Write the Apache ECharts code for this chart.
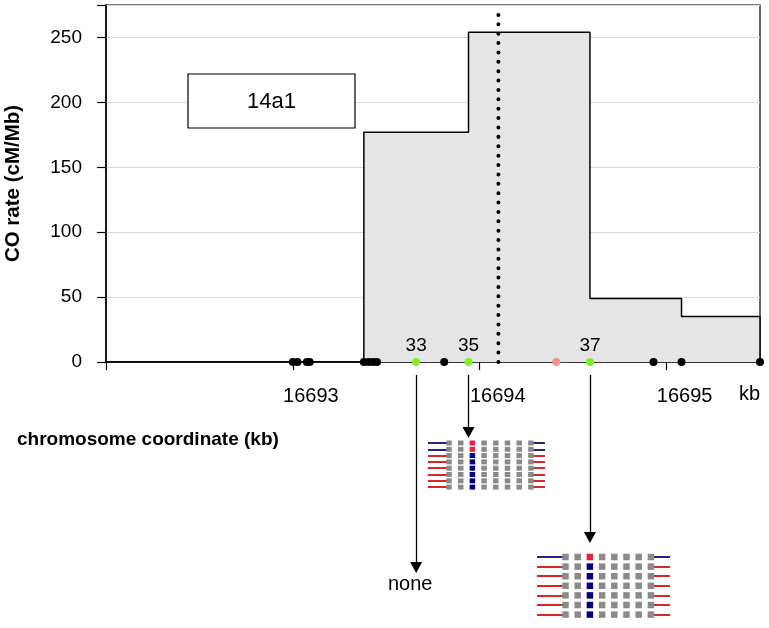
<!DOCTYPE html>
<html><head><meta charset="utf-8">
<script src="https://cdn.jsdelivr.net/npm/echarts@6/dist/echarts.min.js"></script>
<style>html,body{margin:0;padding:0;background:#fff}#c{width:769px;height:628px}</style>
</head><body><div id="c"></div>
<script>
// ---------------- DATA ----------------
const stepEdges = [16692, 16693.38, 16693.94, 16694.59, 16695.08, 16695.50]; // kb
const stepRates = [0, 177, 254, 49, 35];                                     // cM/Mb
const yTickValues = [0, 50, 100, 150, 200, 250];
const xTickMarks = [16692, 16693, 16694, 16695];
const xTickLabels = [16693, 16694, 16695];
const blackMarkers = [16693.00, 16693.025, 16693.075, 16693.09, 16693.38, 16693.405, 16693.43, 16693.45, 16693.81, 16694.93, 16695.08, 16695.50];
const greenMarkers = [16693.66, 16693.94, 16694.59];
const greenLabels = ['33', '35', '37'];
const pinkMarkers = [16694.41];
const hotspotCentre = 16694.10;
const hotspotTop = 268;
const sampleName = '14a1';
const xUnit = 'kb';
const xTitle = 'chromosome coordinate (kb)';
const yTitle = 'CO rate (cM/Mb)';
const arrowLabels = ['none', '', ''];
// haplotype blocks: 'R' = red marker (blue flanks), 'B' = blue marker (red flanks)
const block1Rows = ['R', 'R', 'B', 'B', 'B', 'B', 'B', 'B'];
const block2Rows = ['R', 'B', 'B', 'B', 'B', 'B', 'B'];
const blockCols = [8, 8];
const blockMarkerCol = [2, 2];

// ---------------- LAYOUT ----------------
const W = 769, H = 628;
const plotLeft = 106, plotRight = 9, plotTop = 5, axisY = 362;
const FONT = 'Liberation Sans, Arial, sans-serif';
const arrowStart = 13;                      // px below axis
const arrowTips = [573, 438, 543];          // absolute px of arrow tips
const arrowHead = [12, 11];
const blockLayout = [
  { colX0: 449, colStep: 11.7, rowY0: 443, rowStep: 6.3, lineL: 428, lineR: 545, sq: [5.5, 5] },
  { colX0: 565.5, colStep: 12.2, rowY0: 557, rowStep: 9.6, lineL: 537, lineR: 670, sq: [6.5, 6.5] }
];
const C = { grey: '#8a8a8a', red: '#ee1c3a', navy: '#000080', blueLine: '#25257f', redLine: '#d9262b' };

// ---------------- BUILD ----------------
const stepLine = [];
for (let i = 0; i < stepRates.length; i++) {
  stepLine.push([stepEdges[i], stepRates[i]]);
  stepLine.push([stepEdges[i + 1], stepRates[i]]);
}
stepLine.push([stepEdges[stepEdges.length - 1], 0]);

const gridBase = { outerBoundsMode: 'none', containLabel: false };
const grids = [
  Object.assign({ left: plotLeft, right: plotRight, top: plotTop, bottom: H - axisY, show: true, borderColor: '#000', borderWidth: 1.2, backgroundColor: 'transparent' }, gridBase),
  Object.assign({ left: plotLeft, right: plotRight, top: axisY, bottom: 0 }, gridBase)
];
const xAxes = [
  {
    type: 'value', gridIndex: 0, min: stepEdges[0], max: stepEdges[stepEdges.length - 1],
    axisLine: { show: true, onZero: false, lineStyle: { color: '#000', width: 1.5 } },
    axisTick: { show: true, customValues: xTickMarks, length: 8, lineStyle: { color: '#000', width: 1.2 } },
    axisLabel: { customValues: xTickLabels, formatter: v => String(v), fontSize: 20, color: '#000', fontFamily: FONT, margin: 24, padding: [0, 0, 0, 36] },
    splitLine: { show: false }
  },
  { type: 'value', gridIndex: 1, min: stepEdges[0], max: stepEdges[stepEdges.length - 1], show: false }
];
const yAxes = [
  {
    type: 'value', gridIndex: 0, min: 0, max: 275, interval: 50,
    axisLine: { show: true, lineStyle: { color: '#000', width: 1.5 } },
    axisTick: { show: true, length: 9, lineStyle: { color: '#000', width: 1.2 } },
    axisLabel: { fontSize: 19, color: '#000', fontFamily: FONT, margin: 24, formatter: v => (yTickValues.indexOf(v) >= 0 ? String(v) : '') },
    splitLine: { show: true, lineStyle: { color: '#d9d9d9', width: 1 } },
    name: yTitle, nameLocation: 'middle', nameGap: 82,
    nameTextStyle: { fontSize: 20.5, fontWeight: 'bold', color: '#000', fontFamily: FONT }
  },
  { type: 'value', gridIndex: 1, min: 0, max: H - axisY, inverse: true, show: false }
];

const series = [
  {
    type: 'line', xAxisIndex: 0, yAxisIndex: 0, data: stepLine, symbol: 'none', silent: true,
    lineStyle: { color: '#000', width: 1.5 }, areaStyle: { color: '#e5e5e5', opacity: 1 }, z: 2
  },
  {
    type: 'line', xAxisIndex: 0, yAxisIndex: 0, data: [[hotspotCentre, 0], [hotspotCentre, hotspotTop]],
    symbol: 'none', silent: true, lineStyle: { color: '#000', width: 4, type: [0.01, 9.37], cap: 'round' }, z: 3
  },
  {
    type: 'scatter', xAxisIndex: 0, yAxisIndex: 0, data: blackMarkers.map(x => [x, 0]), symbolSize: 8,
    itemStyle: { color: '#000', opacity: 1 }, clip: false, silent: true, z: 4
  },
  {
    type: 'scatter', xAxisIndex: 0, yAxisIndex: 0, data: pinkMarkers.map(x => [x, 0]), symbolSize: 8,
    itemStyle: { color: '#f4908e', opacity: 1 }, clip: false, silent: true, z: 4
  },
  {
    type: 'scatter', xAxisIndex: 0, yAxisIndex: 0, data: greenMarkers.map(x => [x, 0]), symbolSize: 8,
    itemStyle: { color: '#80f020', opacity: 1 }, clip: false, silent: true, z: 5,
    label: { show: true, position: 'top', distance: 3, formatter: p => greenLabels[p.dataIndex], fontSize: 19, color: '#000', fontFamily: FONT }
  },
  {
    type: 'line', xAxisIndex: 1, yAxisIndex: 1, data: [], silent: true,
    markLine: {
      silent: true, animation: false, symbol: ['none', 'triangle'], symbolSize: arrowHead,
      lineStyle: { color: '#000', width: 1.3, type: 'solid', opacity: 1 },
      itemStyle: { color: '#000', opacity: 1 },
      label: { show: true, position: 'end', distance: 7, padding: [0, 12, 0, 0], formatter: p => arrowLabels[p.dataIndex] || '', fontSize: 20, color: '#000', fontFamily: FONT },
      emphasis: { disabled: true },
      data: greenMarkers.map((x, i) => [
        { coord: [x, arrowStart] },
        { coord: [x, arrowTips[i] - axisY - arrowHead[1] / 2] }
      ])
    }
  }
];

[block1Rows, block2Rows].forEach((rows, b) => {
  const L = blockLayout[b];
  const nCols = blockCols[b];
  const gi = grids.length;
  grids.push(Object.assign({ left: L.lineL, width: L.lineR - L.lineL, top: L.rowY0 - L.rowStep / 2, height: rows.length * L.rowStep }, gridBase));
  const xmin = (L.lineL - L.colX0) / L.colStep, xmax = (L.lineR - L.colX0) / L.colStep;
  xAxes.push({ type: 'value', gridIndex: gi, min: xmin, max: xmax, show: false });
  yAxes.push({ type: 'value', gridIndex: gi, min: -0.5, max: rows.length - 0.5, inverse: true, show: false });
  const lineData = [], cellData = [];
  rows.forEach((s, r) => {
    const flank = s === 'R' ? C.blueLine : C.redLine;
    lineData.push({ coords: [[xmin, r], [0, r]], lineStyle: { color: flank } });
    lineData.push({ coords: [[nCols - 1, r], [xmax, r]], lineStyle: { color: flank } });
    for (let c = 0; c < nCols; c++) {
      const col = c === blockMarkerCol[b] ? (s === 'R' ? C.red : C.navy) : C.grey;
      cellData.push({ value: [c, r], itemStyle: { color: col, opacity: 1 } });
    }
  });
  series.push({ type: 'lines', coordinateSystem: 'cartesian2d', xAxisIndex: gi, yAxisIndex: gi, data: lineData, silent: true, lineStyle: { width: 2, opacity: 1 }, z: 2 });
  series.push({ type: 'scatter', xAxisIndex: gi, yAxisIndex: gi, data: cellData, symbol: 'rect', symbolSize: L.sq, silent: true, z: 3 });
});

const option = {
  animation: false,
  backgroundColor: '#fff',
  grid: grids, xAxis: xAxes, yAxis: yAxes, series: series,
  graphic: [
    { type: 'rect', z: 100, shape: { x: 188, y: 74, width: 167, height: 54 }, style: { fill: '#fff', stroke: '#000', lineWidth: 1.2 } },
    { type: 'text', z: 101, x: 271.5, y: 101.5, style: { text: sampleName, fontSize: 22, fontFamily: FONT, fill: '#000', align: 'center', verticalAlign: 'middle' } },
    { type: 'text', z: 101, x: 17, y: 440, style: { text: xTitle, fontSize: 19, fontWeight: 'bold', fontFamily: FONT, fill: '#000', align: 'left', verticalAlign: 'middle' } },
    { type: 'text', z: 101, x: 760, y: 394, style: { text: xUnit, fontSize: 20, fontFamily: FONT, fill: '#000', align: 'right', verticalAlign: 'middle' } }
  ]
};
const chart = echarts.init(document.getElementById('c'));
chart.setOption(option);
</script></body></html>
